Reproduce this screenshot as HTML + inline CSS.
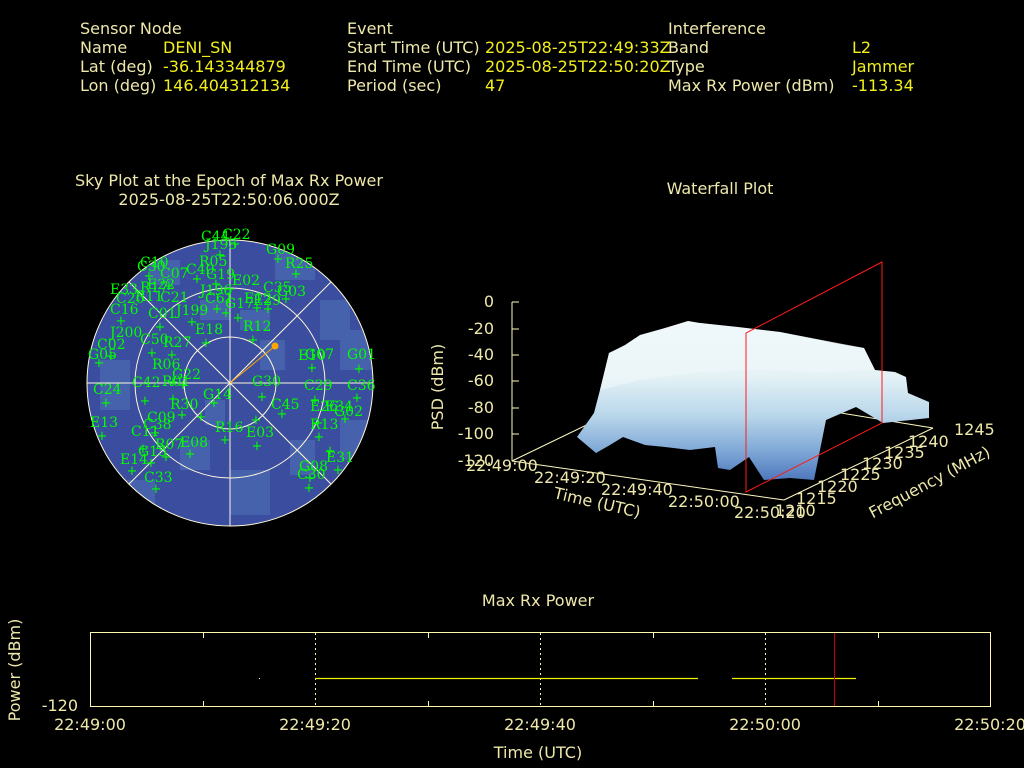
<!DOCTYPE html>
<html><head><meta charset="utf-8"><style>
html,body{margin:0;padding:0;background:#000;width:1024px;height:768px;overflow:hidden}
svg{display:block}
.k{fill:#eee8aa;font-family:"DejaVu Sans","Liberation Sans",sans-serif;font-size:16px}
.v{fill:#f2ef1a;font-family:"DejaVu Sans","Liberation Sans",sans-serif;font-size:16px}
.s{fill:#00ff00;font-family:"DejaVu Serif","Liberation Serif",serif;font-size:14px}
</style></head><body>
<svg width="1024" height="768" viewBox="0 0 1024 768" xmlns="http://www.w3.org/2000/svg">
<rect width="1024" height="768" fill="#000"/>
<text class="k" x="80" y="34">Sensor Node</text>
<text class="k" x="80" y="53">Name</text><text class="v" x="163" y="53">DENI_SN</text>
<text class="k" x="80" y="72">Lat (deg)</text><text class="v" x="163" y="72">-36.143344879</text>
<text class="k" x="80" y="91">Lon (deg)</text><text class="v" x="163" y="91">146.404312134</text>
<text class="k" x="347" y="34">Event</text>
<text class="k" x="347" y="53">Start Time (UTC)</text><text class="v" x="485" y="53">2025-08-25T22:49:33Z</text>
<text class="k" x="347" y="72">End Time (UTC)</text><text class="v" x="485" y="72">2025-08-25T22:50:20Z</text>
<text class="k" x="347" y="91">Period (sec)</text><text class="v" x="485" y="91">47</text>
<text class="k" x="668" y="34">Interference</text>
<text class="k" x="668" y="53">Band</text><text class="v" x="852" y="53">L2</text>
<text class="k" x="668" y="72">Type</text><text class="v" x="852" y="72">Jammer</text>
<text class="k" x="668" y="91">Max Rx Power (dBm)</text><text class="v" x="852" y="91">-113.34</text>

<text class="k" x="229" y="186" text-anchor="middle">Sky Plot at the Epoch of Max Rx Power</text>
<text class="k" x="229" y="205" text-anchor="middle">2025-08-25T22:50:06.000Z</text>
<defs><clipPath id="cc"><circle cx="230" cy="383" r="143"/></clipPath></defs>
<circle cx="230" cy="383" r="143" fill="#3a4d9e"/>
<g clip-path="url(#cc)" fill="#4a68b0" opacity="0.8">
<rect x="275" y="250" width="40" height="30"/><rect x="320" y="300" width="30" height="40"/>
<rect x="340" y="330" width="35" height="40"/><rect x="100" y="360" width="30" height="50"/>
<rect x="230" y="470" width="40" height="45"/><rect x="180" y="440" width="30" height="30"/>
<rect x="340" y="420" width="30" height="40"/><rect x="260" y="340" width="25" height="30"/>
<rect x="150" y="260" width="30" height="25"/><rect x="200" y="300" width="30" height="20"/>
<rect x="120" y="480" width="35" height="30"/><rect x="290" y="440" width="25" height="35"/>
<rect x="205" y="400" width="20" height="25"/><rect x="240" y="310" width="30" height="20"/>
</g>
<g stroke="#fff8dc" stroke-width="1" fill="none">
<circle cx="230" cy="383" r="143"/><circle cx="230" cy="383" r="95"/><circle cx="230" cy="383" r="46"/>
<line x1="87" y1="383" x2="373" y2="383"/><line x1="230" y1="240" x2="230" y2="526"/>
<line x1="129" y1="282" x2="331" y2="484"/><line x1="331" y1="282" x2="129" y2="484"/>
</g>
<line x1="230" y1="383" x2="275" y2="346" stroke="#ffa500" stroke-width="1"/>
<circle cx="275" cy="346" r="3.5" fill="#ffa500"/>
<g class="s">
<text x="201" y="241">C44</text><text x="222" y="239">C22</text><text x="205" y="249">J195</text>
<text x="266" y="254">G09</text><text x="285" y="268">R25</text><text x="199" y="266">R05</text>
<text x="186" y="274">C40</text><text x="206" y="279">G19</text><text x="160" y="278">C07</text>
<text x="137" y="271">C30</text><text x="140" y="267">C10</text><text x="232" y="285">E02</text>
<text x="147" y="289">E22</text><text x="110" y="294">E33</text><text x="140" y="292">R17</text>
<text x="116" y="303">C20</text><text x="135" y="301">R11</text><text x="160" y="302">C21</text>
<text x="200" y="295">J196</text><text x="263" y="292">C35</text><text x="277" y="296">G03</text>
<text x="205" y="303">C61</text><text x="244" y="303">E12</text><text x="225" y="308">G17</text>
<text x="253" y="305">E29</text><text x="110" y="314">C16</text><text x="148" y="318">C01</text>
<text x="176" y="315">J199</text><text x="110" y="337">J200</text><text x="195" y="334">E18</text>
<text x="243" y="331">R12</text><text x="140" y="344">C50</text><text x="97" y="349">C02</text>
<text x="163" y="347">R27</text><text x="88" y="359">G05</text><text x="298" y="360">E10</text>
<text x="305" y="359">G07</text><text x="347" y="359">G01</text><text x="152" y="369">R06</text>
<text x="172" y="379">G22</text><text x="93" y="394">C24</text><text x="132" y="387">C42</text>
<text x="162" y="386">R01</text><text x="252" y="386">G30</text><text x="304" y="390">C29</text>
<text x="347" y="390">C36</text><text x="203" y="399">G14</text><text x="271" y="409">C45</text>
<text x="90" y="427">E13</text><text x="170" y="409">R30</text><text x="147" y="422">C09</text>
<text x="143" y="429">C38</text><text x="310" y="411">E26</text><text x="325" y="411">E34</text>
<text x="334" y="416">G02</text><text x="310" y="429">R13</text><text x="215" y="432">R16</text>
<text x="246" y="437">E03</text><text x="131" y="436">C11</text><text x="180" y="447">E08</text>
<text x="155" y="449">R07</text><text x="138" y="456">G15</text><text x="120" y="464">E14</text>
<text x="326" y="462">E31</text><text x="299" y="471">G08</text><text x="297" y="479">C30</text>
<text x="144" y="482">C33</text>
</g>
<g fill="#00ff00" font-family="DejaVu Sans" font-size="13" text-anchor="middle">
<text x="235" y="248">+</text><text x="278" y="263">+</text><text x="296" y="278">+</text><text x="220" y="259">+</text>
<text x="197" y="283">+</text><text x="216" y="288">+</text><text x="149" y="280">+</text><text x="169" y="290">+</text>
<text x="230" y="293">+</text><text x="286" y="303">+</text><text x="257" y="312">+</text><text x="268" y="313">+</text>
<text x="217" y="313">+</text><text x="226" y="317">+</text><text x="238" y="322">+</text><text x="121" y="325">+</text>
<text x="192" y="326">+</text><text x="160" y="331">+</text><text x="253" y="344">+</text><text x="206" y="347">+</text>
<text x="152" y="357">+</text><text x="111" y="360">+</text><text x="99" y="367">+</text><text x="172" y="359">+</text>
<text x="312" y="372">+</text><text x="359" y="373">+</text><text x="173" y="386">+</text><text x="183" y="389">+</text>
<text x="262" y="401">+</text><text x="357" y="402">+</text><text x="315" y="404">+</text><text x="106" y="407">+</text>
<text x="145" y="405">+</text><text x="173" y="403">+</text><text x="214" y="407">+</text><text x="182" y="419">+</text>
<text x="201" y="421">+</text><text x="282" y="418">+</text><text x="256" y="424">+</text><text x="345" y="423">+</text>
<text x="318" y="427">+</text><text x="102" y="440">+</text><text x="155" y="437">+</text><text x="319" y="441">+</text>
<text x="225" y="444">+</text><text x="257" y="450">+</text><text x="143" y="453">+</text><text x="190" y="458">+</text>
<text x="166" y="461">+</text><text x="330" y="455">+</text><text x="151" y="467">+</text><text x="132" y="475">+</text>
<text x="338" y="474">+</text><text x="310" y="482">+</text><text x="309" y="492">+</text><text x="156" y="493">+</text>
</g>

<text class="k" x="720" y="194" text-anchor="middle">Waterfall Plot</text>
<defs>
<linearGradient id="wg" x1="0" y1="0" x2="0" y2="1">
<stop offset="0" stop-color="#f2fafa"/><stop offset="0.35" stop-color="#e4f2f6"/>
<stop offset="0.6" stop-color="#b8d6ea"/><stop offset="0.82" stop-color="#7ea7d6"/>
<stop offset="1" stop-color="#4e78bc"/></linearGradient>
</defs>
<g stroke="#fff8c0" stroke-width="1" fill="none">
<line x1="512" y1="461" x2="661" y2="389"/>
<line x1="841" y1="413" x2="933" y2="428"/>
</g>
<polygon fill="url(#wg)" points="577,437 594,413 600,390 609,353 625,345 640,335 665,328 688,321 700,323 738,327 780,332 810,338 840,344 864,348 875,370 895,372 906,377 908,393 929,402 929,418 883,423 856,407 826,420 814,480 790,478 764,480 749,457 730,470 718,468 715,447 690,450 665,447 645,445 623,437 610,445 596,453"/>
<polygon fill="#eef7f9" opacity="0.7" points="600,390 609,353 665,328 700,323 780,332 864,348 875,370 820,372 760,370 700,372 640,380"/>
<g stroke="#fff8c0" stroke-width="1" fill="none">
<line x1="512" y1="302" x2="512" y2="461"/>
<line x1="512" y1="461" x2="784" y2="500"/>
<line x1="784" y1="500" x2="933" y2="428"/>
</g>
<g stroke="#fff8c0" stroke-width="1">
<line x1="512" y1="302" x2="519" y2="302"/><line x1="512" y1="329" x2="519" y2="329"/>
<line x1="512" y1="355" x2="519" y2="355"/><line x1="512" y1="381" x2="519" y2="381"/>
<line x1="512" y1="408" x2="519" y2="408"/><line x1="512" y1="434" x2="519" y2="434"/>
</g>
<g class="k" text-anchor="end">
<text x="494" y="307">0</text><text x="494" y="334">-20</text><text x="494" y="360">-40</text>
<text x="494" y="386">-60</text><text x="494" y="413">-80</text><text x="494" y="439">-100</text><text x="494" y="466">-120</text>
</g>
<text class="k" x="438" y="387" text-anchor="middle" transform="rotate(-90 438 387)" dy="5">PSD (dBm)</text>
<g class="k">
<text x="466" y="471">22:49:00</text><text x="534" y="483">22:49:20</text>
<text x="601" y="495">22:49:40</text><text x="668" y="507">22:50:00</text><text x="734" y="518">22:50:20</text>
<text x="775" y="516">1210</text><text x="796" y="504">1215</text><text x="817" y="492">1220</text>
<text x="840" y="480">1225</text><text x="862" y="469">1230</text><text x="884" y="458">1235</text>
<text x="908" y="447">1240</text><text x="954" y="435">1245</text>
</g>
<text class="k" x="596" y="508" transform="rotate(13 596 508)" text-anchor="middle">Time (UTC)</text>
<text class="k" x="932" y="487" transform="rotate(-28 932 487)" text-anchor="middle">Frequency (MHz)</text>
<polygon points="746,492 882,423 882,262 746,333" fill="none" stroke="#ff1a1a" stroke-width="1"/>

<text class="k" x="538" y="606" text-anchor="middle">Max Rx Power</text>
<rect x="90.5" y="632.5" width="900" height="74" fill="none" stroke="#fff8b0" stroke-width="1"/>
<g stroke="#fff8b0" stroke-width="1" stroke-dasharray="2,3">
<line x1="315.5" y1="633" x2="315.5" y2="706"/><line x1="540.5" y1="633" x2="540.5" y2="706"/><line x1="765.5" y1="633" x2="765.5" y2="706"/>
</g>
<g stroke="#fff8b0" stroke-width="1">
<line x1="203.5" y1="633" x2="203.5" y2="638"/><line x1="203.5" y1="701" x2="203.5" y2="706"/>
<line x1="428.5" y1="633" x2="428.5" y2="638"/><line x1="428.5" y1="701" x2="428.5" y2="706"/>
<line x1="653.5" y1="633" x2="653.5" y2="638"/><line x1="653.5" y1="701" x2="653.5" y2="706"/>
<line x1="878.5" y1="633" x2="878.5" y2="638"/><line x1="878.5" y1="701" x2="878.5" y2="706"/>
</g>
<line x1="315" y1="678.5" x2="698" y2="678.5" stroke="#f0f000" stroke-width="1.3"/>
<line x1="732" y1="678.5" x2="856" y2="678.5" stroke="#f0f000" stroke-width="1.3"/>
<rect x="259" y="678" width="1" height="1" fill="#fff"/>
<line x1="834.5" y1="633" x2="834.5" y2="706" stroke="#c00" stroke-width="1"/>
<text class="k" x="78" y="711" text-anchor="end">-120</text>
<text class="k" x="20" y="670" text-anchor="middle" transform="rotate(-90 20 670)" dy="0">Power (dBm)</text>
<g class="k" text-anchor="middle">
<text x="90" y="730">22:49:00</text><text x="315" y="730">22:49:20</text><text x="540" y="730">22:49:40</text>
<text x="765" y="730">22:50:00</text><text x="990" y="730">22:50:20</text>
</g>
<text class="k" x="538" y="758" text-anchor="middle">Time (UTC)</text>
</svg>
</body></html>
